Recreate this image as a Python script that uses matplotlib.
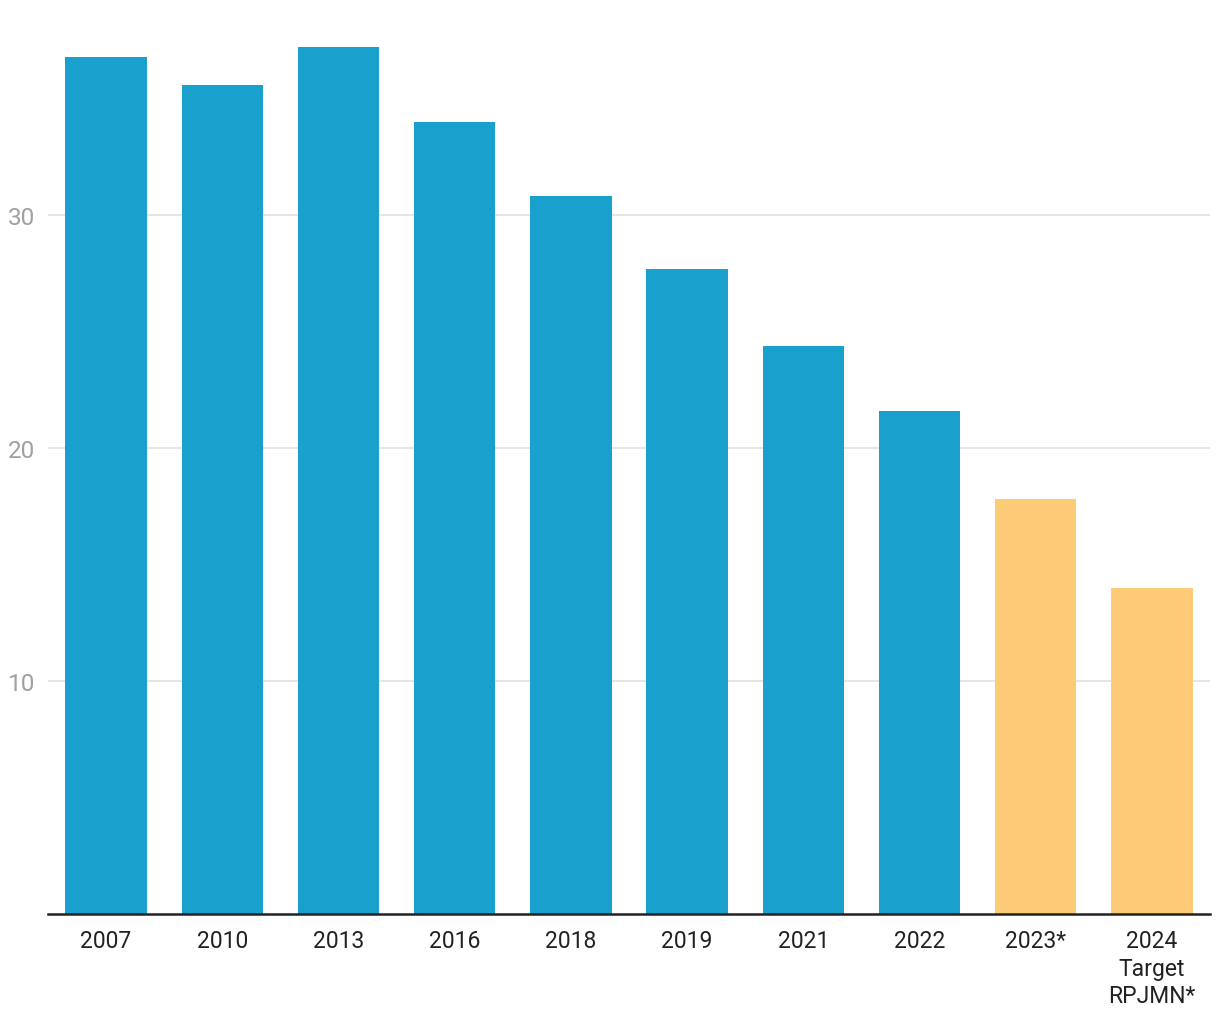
import matplotlib.pyplot as plt

# Data
years = ["2007", "2010", "2013", "2016", "2018", "2019", "2021", "2022", "2023*", "2024\nTarget\nRPJMN*"]
values = [36.8, 35.6, 37.2, 34.0, 30.8, 27.7, 24.4, 21.6, 17.8, 14.0]
colors = ["#1aa0cc"] * 8 + ["#fdca77"] * 2

plt.rcParams['font.family'] = ['Roboto', 'DejaVu Sans']

fig = plt.figure(figsize=(12.2, 10.2), dpi=100)
ax = fig.add_axes([48 / 1220, 1 - 915 / 1020, 1162 / 1220, (915 - 18) / 1020])

x = range(len(years))
ax.bar(x, values, width=0.7, color=colors, zorder=3)

ax.set_xlim(-0.5, len(years) - 0.5)
ax.set_ylim(0, 38.5)
ax.set_yticks([10, 20, 30])
ax.set_xticks(list(x))
ax.set_xticklabels(years, fontsize=16.5, color="#222222", linespacing=1.25)
ax.tick_params(axis='x', length=0, pad=11)
ax.tick_params(axis='y', length=0, pad=9, labelsize=17.5, labelcolor="#a0a0a0")
ax.grid(axis='y', color="#e0e0e0", linewidth=1.2, zorder=0)

for s in ['top', 'right', 'left']:
    ax.spines[s].set_visible(False)
ax.spines['bottom'].set_color("#222222")
ax.spines['bottom'].set_linewidth(1.8)
ax.spines['bottom'].set_zorder(4)

fig.savefig("out.png", dpi=100)
